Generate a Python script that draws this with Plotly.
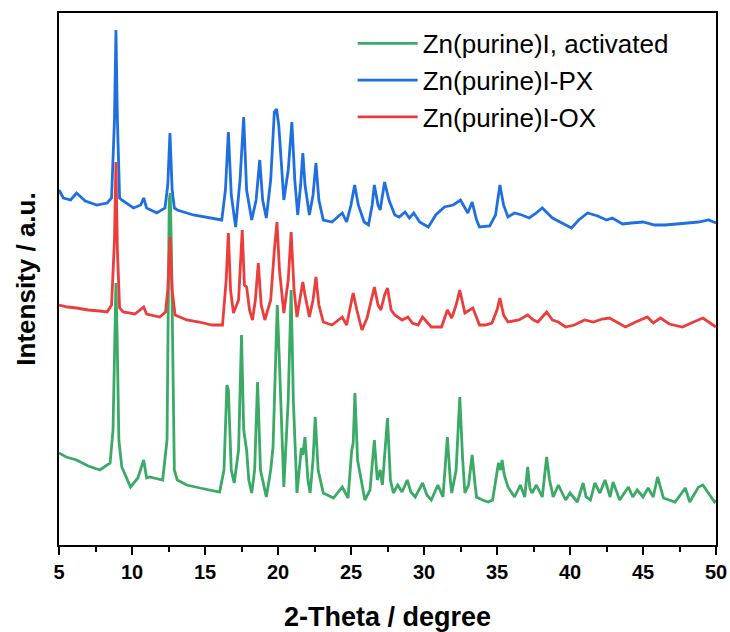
import plotly.graph_objects as go

# 2-theta positions and intensities (a.u.)
blue_x = [5.0, 5.3, 5.8, 6.2, 6.8, 7.6, 8.3, 8.6, 8.8, 8.9, 9.0, 9.15, 9.3, 10.1, 10.6, 10.8, 11.0, 11.7, 12.26, 12.45,
          12.6, 12.75, 12.9, 13.1, 14.2, 15.5, 16.15, 16.4, 16.6, 16.8, 17.1, 17.4, 17.65, 17.85, 18.2, 18.5, 18.75, 18.95,
          19.2, 19.5, 19.75, 19.9, 20.05, 20.4, 20.7, 20.95, 21.15, 21.35, 21.55, 21.7, 21.85, 22.15, 22.4, 22.6, 22.8,
          23.1, 23.7, 24.4, 24.7, 25.0, 25.25, 25.5, 25.9, 26.2, 26.45, 26.6, 26.85, 27.0, 27.3, 27.6, 28.0, 28.3, 28.7,
          29.0, 29.3, 29.7, 30.3, 30.8, 31.4, 32.0, 32.5, 33.0, 33.3, 33.6, 33.8, 34.5, 34.9, 35.2, 35.45, 35.75, 36.2,
          36.7, 37.2, 37.6, 38.1, 38.8, 39.4, 40.1, 40.6, 41.2, 41.9, 42.5, 42.9, 43.6, 44.2, 45.0, 45.8, 46.5, 47.3,
          48.0, 48.8, 49.5, 50.0]
blue_y = [355, 347, 345, 352, 344, 340, 342, 347, 425, 515, 425, 347, 345, 337, 340, 347, 337, 332, 337, 360,
          412, 355, 337, 335, 330, 327, 325, 355, 413, 350, 318, 365, 428, 355, 325, 345, 385, 345,
          327, 365, 433, 436, 420, 345, 375, 423, 365, 330, 360, 392, 360, 330, 350, 382, 345,
          325, 323, 332, 323, 340, 360, 340, 323, 320, 340, 360, 340, 335, 363, 345, 330, 328, 333,
          327, 332, 323, 318, 330, 338, 340, 345, 332, 343, 325, 318, 319, 330, 360, 340, 328, 332,
          330, 327, 331, 337, 327, 322, 317, 325, 332, 329, 325, 327, 321, 322, 323, 320, 320, 321,
          322, 323, 325, 322]

red_x = [5.0, 5.6, 6.2, 7.0, 7.8, 8.3, 8.6, 8.8, 8.9, 9.0, 9.15, 9.4, 10.2, 10.8, 11.0, 11.9, 12.3, 12.45, 12.6, 12.75,
         12.95, 13.75, 14.6, 15.5, 16.2, 16.45, 16.6, 16.75, 16.95, 17.3, 17.55, 17.7, 17.85, 18.05, 18.25, 18.45,
         18.65, 18.85, 19.1, 19.5, 19.75, 19.93, 20.1, 20.4, 20.7, 20.9, 21.1, 21.3, 21.55, 21.7, 21.85, 22.15, 22.4,
         22.6, 22.8, 23.1, 23.7, 24.4, 24.7, 25.0, 25.15, 25.4, 25.75, 26.1, 26.4, 26.6, 26.85, 27.05, 27.3, 27.5,
         27.75, 28.0, 28.5, 28.9, 29.2, 29.6, 29.9, 30.5, 31.2, 31.6, 31.9, 32.2, 32.45, 32.8, 33.35, 33.8, 34.2,
         34.65, 35.0, 35.2, 35.45, 35.75, 36.5, 37.1, 37.5, 37.8, 38.4, 38.8, 39.2, 39.7, 40.3, 41.0, 41.6, 42.2,
         42.7, 43.3, 43.8, 44.5, 45.3, 45.7, 46.2, 46.8, 47.7, 48.3, 49.1, 49.6, 50.0]
red_y = [240, 238, 237, 235, 234, 233, 240, 305, 383, 295, 237, 233, 231, 238, 231, 228, 233, 255, 308, 255,
         230, 225, 223, 220, 220, 265, 312, 255, 232, 245, 315, 260, 258, 235, 225, 245,
         282, 240, 225, 245, 295, 323, 275, 232, 265, 313, 255, 228, 250, 263, 250, 228, 245,
         268, 240, 223, 220, 228, 220, 240, 252, 235, 215, 227, 245, 258, 240, 235, 250, 257,
         235, 230, 225, 228, 222, 220, 228, 218, 218, 235, 227, 240, 255, 232, 237, 220, 220,
         222, 235, 247, 230, 223, 225, 230, 225, 223, 233, 225, 223, 218, 220, 225, 223, 226,
         227, 222, 218, 223, 228, 222, 227, 221, 218, 222, 227, 222, 218]

green_x = [5.0, 5.5, 6.2, 7.0, 7.8, 8.5, 8.7, 8.82, 8.9, 8.98, 9.1, 9.3, 9.9, 10.4, 10.8, 11.0, 11.2, 12.1, 12.4, 12.55,
           12.62, 12.7, 12.9, 13.1, 13.75, 14.65, 16.0, 16.3, 16.5, 16.6, 16.8, 17.0, 17.3, 17.5, 17.65, 17.85, 18.0,
           18.2, 18.4, 18.6, 18.8, 19.2, 19.5, 19.66, 19.82, 19.95, 20.08, 20.4, 20.7, 20.9, 21.05, 21.3, 21.6, 21.7,
           21.85, 22.05, 22.2, 22.4, 22.55, 22.75, 23.1, 23.8, 24.4, 24.8, 25.05, 25.15, 25.27, 25.45, 25.95, 26.3,
           26.6, 26.8, 27.0, 27.15, 27.5, 27.7, 27.9, 28.2, 28.5, 28.85, 29.1, 29.4, 29.9, 30.2, 30.5, 30.95, 31.3,
           31.6, 31.8, 31.9, 32.2, 32.45, 32.65, 32.8, 33.05, 33.3, 33.5, 33.6, 34.0, 34.4, 34.7, 35.0, 35.1, 35.25,
           35.35, 35.5, 35.75, 36.2, 36.6, 36.9, 37.1, 37.25, 37.4, 37.7, 38.1, 38.4, 38.6, 38.85, 39.2, 39.7, 40.0,
           40.5, 40.9, 41.1, 41.4, 41.7, 42.05, 42.4, 42.75, 42.95, 43.4, 44.0, 44.3, 44.6, 45.0, 45.35, 45.7, 46.0,
           46.4, 47.2, 47.9, 48.2, 48.8, 49.1, 49.45, 49.9, 50.0]
green_y = [92, 88, 85, 79, 75, 82, 115, 210, 262, 210, 105, 78, 58, 67, 85, 67, 68, 65, 105, 345,
           352, 295, 75, 65, 60, 57, 53, 75, 160, 155, 75, 62, 95, 210, 115, 95, 65,
           52, 75, 163, 75, 48, 75, 98, 190, 240, 190, 58, 145, 255, 145, 52, 97, 90,
           108, 65, 52, 85, 128, 75, 52, 47, 58, 47, 95, 102, 152, 85, 45, 55,
           105, 65, 75, 60, 127, 65, 52, 60, 53, 65, 53, 48, 62, 50, 45, 60, 48,
           108, 65, 52, 75, 148, 85, 52, 60, 90, 60, 48, 45, 43, 45, 75, 82, 75,
           85, 70, 58, 48, 60, 48, 78, 57, 52, 60, 48, 88, 65, 48, 60, 45, 52,
           43, 62, 48, 45, 62, 52, 65, 48, 63, 45, 58, 48, 55, 48, 57, 48, 68,
           47, 43, 57, 43, 58, 60, 53, 43, 45]

x_ticks = [5, 10, 15, 20, 25, 30, 35, 40, 45, 50]

GREEN = "#3AAA66"
BLUE = "#1F6FE0"
RED = "#EC3D3D"
FONT = "Liberation Sans, Arial, sans-serif"

fig = go.Figure()
fig.add_trace(go.Scatter(x=blue_x, y=blue_y, mode="lines", name="Zn(purine)I-PX",
                         line=dict(color=BLUE, width=2.8), legendrank=2))
fig.add_trace(go.Scatter(x=green_x, y=green_y, mode="lines", name="Zn(purine)I, activated",
                         line=dict(color=GREEN, width=2.8), legendrank=1))
fig.add_trace(go.Scatter(x=red_x, y=red_y, mode="lines", name="Zn(purine)I-OX",
                         line=dict(color=RED, width=2.8), legendrank=3))

fig.update_layout(
    width=730, height=632,
    margin=dict(l=59, r=14, t=13, b=87),
    paper_bgcolor="white", plot_bgcolor="white",
    font=dict(family=FONT, color="black"),
    showlegend=True,
    legend=dict(x=0.447, y=0.987, xanchor="left", yanchor="top",
                bgcolor="rgba(0,0,0,0)", font=dict(size=26, family=FONT, color="black"),
                itemwidth=60, tracegroupgap=0),
    xaxis=dict(range=[5, 50], tickvals=x_ticks, ticktext=[str(t) for t in x_ticks],
               ticks="outside", ticklen=8, tickwidth=2, tickcolor="black",
               showline=True, linewidth=2, linecolor="black", mirror=True,
               showgrid=False, zeroline=False, automargin=False,
               ticklabelstandoff=0,
               tickfont=dict(size=20, family=FONT, weight="bold", color="black"),
               minor=dict(dtick=2.5, tick0=5, ticks="outside", ticklen=5, tickwidth=2, tickcolor="black", showgrid=False),
               title=dict(text="2-Theta / degree", font=dict(size=27, family=FONT, weight="bold", color="black"),
                          standoff=40)),
    yaxis=dict(range=[0, 532], showticklabels=False, ticks="",
               showline=True, linewidth=2, linecolor="black", mirror=True,
               showgrid=False, zeroline=False, automargin=False,
               title=dict(text="Intensity / a.u.", font=dict(size=26, family=FONT, weight="bold", color="black"),
                          standoff=14)),
)

fig.write_html("out.html")
